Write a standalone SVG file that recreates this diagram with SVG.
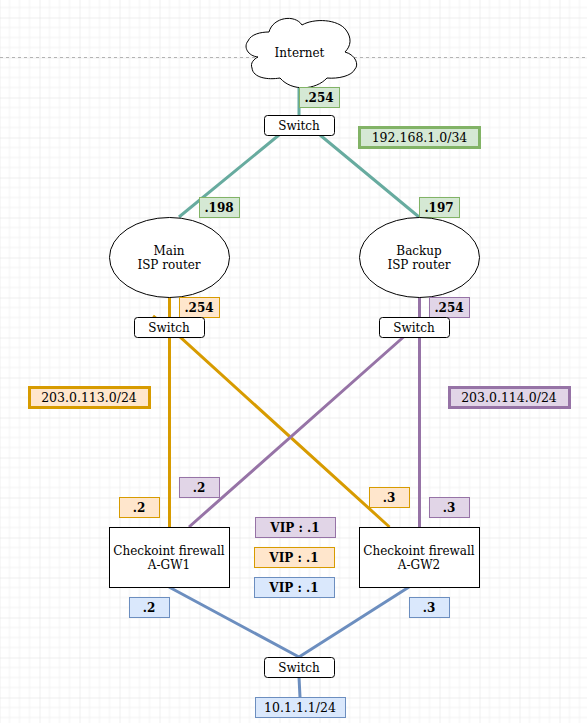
<svg xmlns="http://www.w3.org/2000/svg" width="587" height="723" viewBox="0 0 587 723">
<style>
text{font-family:"DejaVu Serif",serif;font-size:12px;fill:#000;text-anchor:middle}
.b{font-weight:bold}
.w{font-size:12.5px}
.n{fill:#fff;stroke:#000;stroke-width:1}
.l{fill:none;stroke-width:3}
.t{stroke-width:3}
.g{stroke:#67ab9f}.o{stroke:#d79b00}.p{stroke:#9673a6}.u{stroke:#6c8ebf}
.fg{fill:#d5e8d4;stroke:#82b366}.fo{fill:#ffe6cc;stroke:#d79b00}.fp{fill:#e1d5e7;stroke:#9673a6}.fu{fill:#dae8fc;stroke:#6c8ebf}
</style>
<defs>
<pattern id="grid" width="40" height="40" patternUnits="userSpaceOnUse" x="-0.5" y="17.5">
<path d="M10 0V40M20 0V40M30 0V40M0 10H40M0 20H40M0 30H40" stroke="#f2f2f2" stroke-width="1" fill="none"/>
<path d="M0 0V40M0 0H40" stroke="#e0e0e0" stroke-width="1" fill="none"/>
</pattern>
</defs>
<rect width="587" height="723" fill="#fff"/>
<rect width="587" height="723" fill="url(#grid)"/>
<path d="M0 57.500H587" stroke="#b3b3b3" stroke-width="1" stroke-dasharray="3 3" fill="none"/>
<g id="connectors">
<path class="l g" d="M299 85V115M279 135L179 217M320 135L419 217"/>
<path class="l o" d="M169.500 297V527M153 316L180 337L389.500 527"/>
<path class="l p" d="M419.500 297V527M403.500 337L189 527"/>
<path class="l u" d="M169 587L299 657M409 587L299 657M299 677L300 697"/>
</g>
<g id="internet"><path class="n" d="M258 57C248 56 243 47 248 41C251 34 261 32 269 32C273 17 295 14 302 25C314 18 338 19 346 30C352 38 351 46 345 52C356 55 359 65 355 69C352 76 338 79 327 78C316 90 292 92 280 78C268 80 253 78 252 68C250 63 254 59 258 57Z"/><text x="299.500" y="57">Internet</text></g>
<g id="switch-top"><rect class="n" x="264.500" y="115.500" width="70" height="20" rx="3"/><text x="299" y="130">Switch</text></g>
<g id="label-254-top"><rect class="fg" x="299.500" y="87.500" width="40" height="20"/><text class="b" x="319" y="102">.254</text></g>
<g id="net-green"><rect class="fg t" x="359.500" y="127.500" width="120" height="20"/><text class="w" x="419.500" y="142">192.168.1.0/34</text></g>
<g id="label-198"><rect class="fg" x="199.500" y="197.500" width="40" height="20"/><text class="b" x="219" y="212">.198</text></g>
<g id="label-197"><rect class="fg" x="419.500" y="197.500" width="40" height="20"/><text class="b" x="439" y="212">.197</text></g>
<g id="router-main"><ellipse class="n" cx="169.500" cy="257.500" rx="60" ry="40"/><text x="169" y="255">Main</text><text x="169" y="269">ISP router</text></g>
<g id="router-backup"><ellipse class="n" cx="419.500" cy="257.500" rx="60" ry="40"/><text x="419" y="255">Backup</text><text x="419" y="269">ISP router</text></g>
<g id="label-254-o"><rect class="fo" x="179.500" y="297.500" width="40" height="20"/><text class="b" x="199" y="312">.254</text></g>
<g id="label-254-p"><rect class="fp" x="429.500" y="297.500" width="40" height="20"/><text class="b" x="449" y="312">.254</text></g>
<g id="switch-left"><rect class="n" x="134.500" y="317.500" width="70" height="20" rx="3"/><text x="169" y="332">Switch</text></g>
<g id="switch-right"><rect class="n" x="379.500" y="317.500" width="70" height="20" rx="3"/><text x="414" y="332">Switch</text></g>
<g id="net-orange"><rect class="fo t" x="29.500" y="387.500" width="120" height="20"/><text class="w" x="89" y="402">203.0.113.0/24</text></g>
<g id="net-purple"><rect class="fp t" x="449.500" y="387.500" width="120" height="20"/><text class="w" x="509" y="402">203.0.114.0/24</text></g>
<g id="label-2-p"><rect class="fp" x="179.500" y="477.500" width="40" height="20"/><text class="b" x="199" y="492">.2</text></g>
<g id="label-2-o"><rect class="fo" x="119.500" y="497.500" width="40" height="20"/><text class="b" x="139" y="512">.2</text></g>
<g id="label-3-o"><rect class="fo" x="369.500" y="487.500" width="40" height="20"/><text class="b" x="389" y="502">.3</text></g>
<g id="label-3-p"><rect class="fp" x="429.500" y="497.500" width="40" height="20"/><text class="b" x="449" y="512">.3</text></g>
<g id="vip-p"><rect class="fp" x="255.500" y="517.500" width="80" height="20"/><text class="b" x="295" y="532">VIP : .1</text></g>
<g id="vip-o"><rect class="fo" x="254.500" y="547.500" width="80" height="20"/><text class="b" x="294" y="562">VIP : .1</text></g>
<g id="vip-u"><rect class="fu" x="254.500" y="577.500" width="80" height="20"/><text class="b" x="294" y="592">VIP : .1</text></g>
<g id="gw1"><rect class="n" x="109.500" y="527.500" width="120" height="60"/><text x="169" y="555">Checkoint firewall</text><text x="169" y="569">A-GW1</text></g>
<g id="gw2"><rect class="n" x="359.500" y="527.500" width="120" height="60"/><text x="419" y="555">Checkoint firewall</text><text x="419" y="569">A-GW2</text></g>
<g id="label-2-u"><rect class="fu" x="129.500" y="597.500" width="40" height="20"/><text class="b" x="149" y="612">.2</text></g>
<g id="label-3-u"><rect class="fu" x="409.500" y="597.500" width="40" height="20"/><text class="b" x="429" y="612">.3</text></g>
<g id="switch-bottom"><rect class="n" x="264.500" y="657.500" width="70" height="20" rx="3"/><text x="299" y="672">Switch</text></g>
<g id="net-blue"><rect class="fu" x="255.500" y="697.500" width="90" height="20"/><text class="w" x="300" y="712">10.1.1.1/24</text></g>
</svg>
